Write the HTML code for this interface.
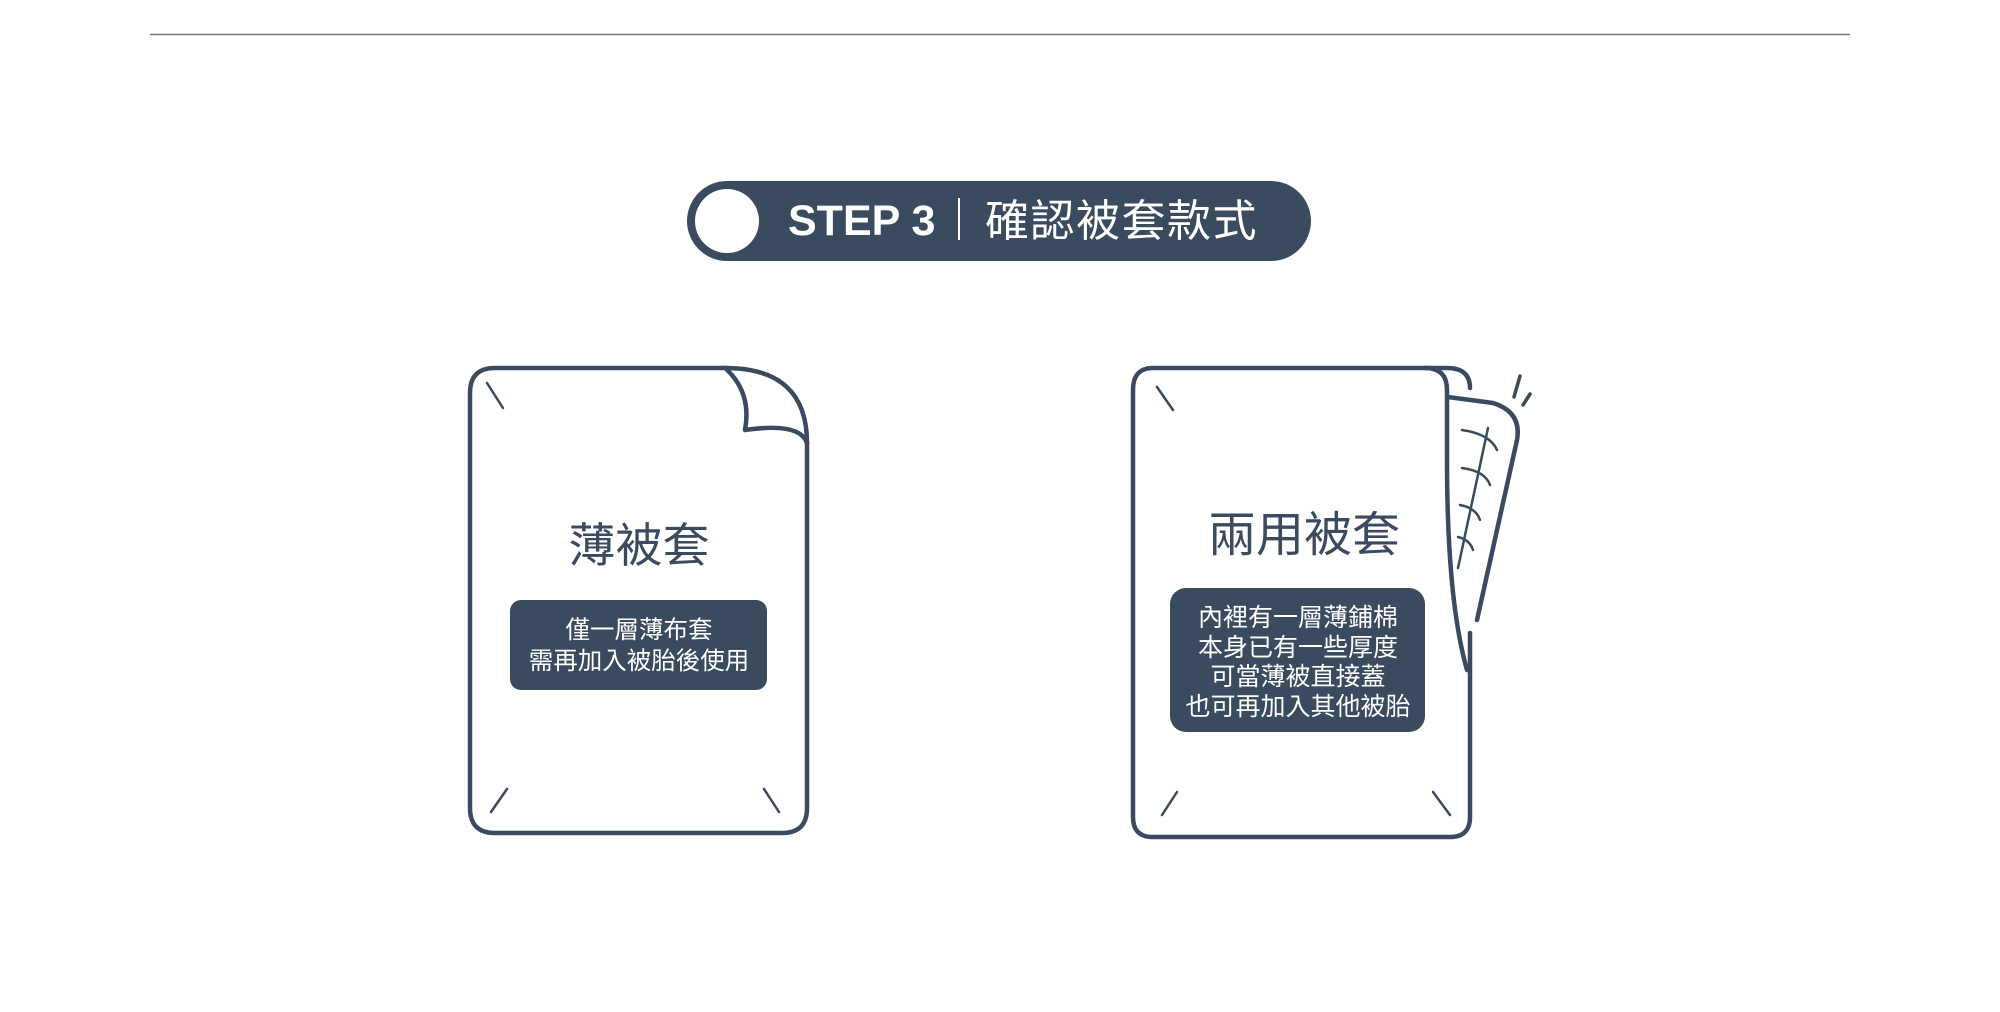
<!DOCTYPE html>
<html><head><meta charset="utf-8"><style>
html,body{margin:0;padding:0;background:#fff;}
svg{display:block;}
text{font-family:"Liberation Sans","Noto Sans CJK TC",sans-serif;}
</style></head><body>
<svg width="2000" height="1012" viewBox="0 0 2000 1012" xmlns="http://www.w3.org/2000/svg">
<line x1="150" y1="34.5" x2="1850" y2="34.5" stroke="#777" stroke-width="1.5"/>
<rect x="687" y="181" width="624" height="80" rx="40" fill="#3a4a5f"/>
<circle cx="727" cy="221" r="32" fill="#fff"/>
<text x="788" y="235" font-size="43" font-weight="bold" fill="#fff">STEP 3</text>
<line x1="959" y1="198" x2="959" y2="240" stroke="#fff" stroke-width="2"/>
<text x="985" y="236" font-size="44" fill="#fff" letter-spacing="1.5">確認被套款式</text>

<g fill="none" stroke="#3a4a5f" stroke-width="4.5" stroke-linecap="round" stroke-linejoin="round">
<path d="M725 368 H495 Q470 368 470 393 V808 Q470 833 495 833 H782 Q807 833 807 808 V443"/>
<path d="M725 368 Q807 368 807 443"/>
<path d="M725 368 Q752 392 745 430 Q800 422 807 443"/>
<line x1="487" y1="383" x2="503" y2="408" stroke-width="2.5"/>
<line x1="491" y1="812" x2="507" y2="789" stroke-width="2.5"/>
<line x1="764" y1="789" x2="779" y2="812" stroke-width="2.5"/>
<path d="M1447 390 Q1447 368 1425 368 H1153 Q1133 368 1133 390 V817 Q1133 837 1153 837 H1450 Q1470 837 1470 817 V633"/>
<path d="M1425 368 H1447 Q1470 368 1470 388"/>
<path d="M1447 390 V460 Q1447 600 1467 670"/>
<path d="M1448 397 L1493 403 Q1522 412 1517 440 L1477 620"/>
<line x1="1488" y1="428" x2="1458" y2="568" stroke-width="2.5"/>
<path d="M1462 430 Q1490 434 1497 450" stroke-width="2.5"/>
<path d="M1462 468 Q1485 471 1490 485" stroke-width="2.5"/>
<path d="M1460 505 Q1476 508 1480 520" stroke-width="2.5"/>
<path d="M1458 537 Q1470 540 1473 550" stroke-width="2.5"/>
<line x1="1520" y1="376" x2="1514" y2="397" stroke-width="3.5"/>
<line x1="1530" y1="394" x2="1523" y2="405" stroke-width="3.5"/>
<line x1="1157" y1="387" x2="1173" y2="410" stroke-width="2.5"/>
<line x1="1177" y1="792" x2="1162" y2="815" stroke-width="2.5"/>
<line x1="1433" y1="792" x2="1450" y2="815" stroke-width="2.5"/>
</g>

<text x="639" y="562" font-size="47" fill="#3a4a5f" text-anchor="middle">薄被套</text>
<rect x="510" y="600" width="257" height="90" rx="11" fill="#3a4a5f"/>
<text x="639" y="638" font-size="24.5" fill="#fff" text-anchor="middle">僅一層薄布套</text>
<text x="639" y="669" font-size="24.5" fill="#fff" text-anchor="middle">需再加入被胎後使用</text>

<text x="1304" y="551" font-size="48" fill="#3a4a5f" text-anchor="middle">兩用被套</text>
<rect x="1170" y="588" width="255" height="144" rx="16" fill="#3a4a5f"/>
<text x="1298" y="626" font-size="25" fill="#fff" text-anchor="middle">內裡有一層薄鋪棉</text>
<text x="1298" y="656" font-size="25" fill="#fff" text-anchor="middle">本身已有一些厚度</text>
<text x="1298" y="685" font-size="25" fill="#fff" text-anchor="middle">可當薄被直接蓋</text>
<text x="1298" y="715" font-size="25" fill="#fff" text-anchor="middle">也可再加入其他被胎</text>
</svg>
</body></html>
